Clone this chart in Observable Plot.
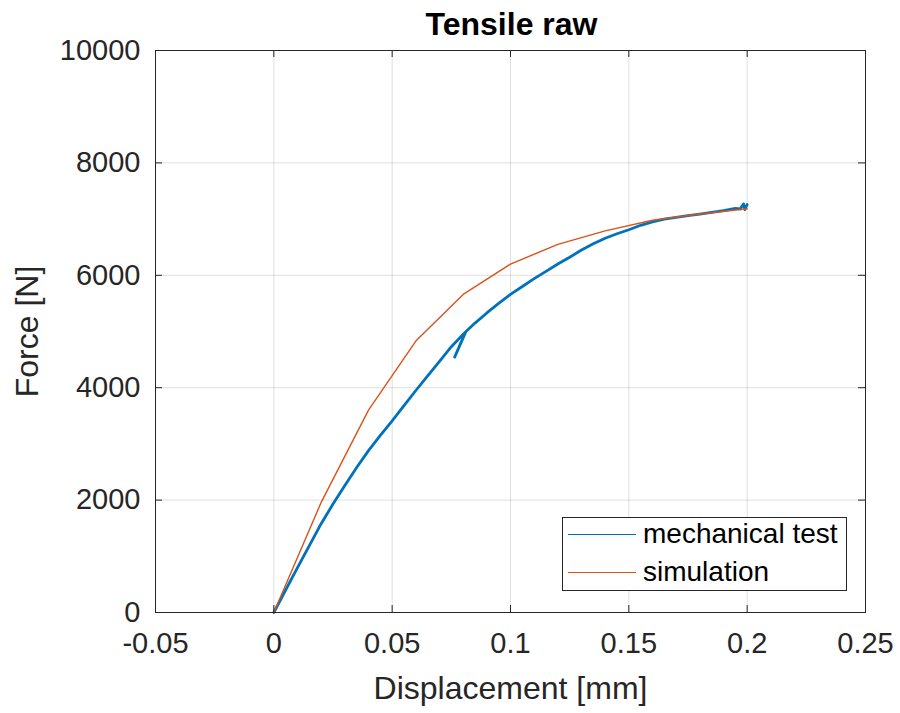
<!DOCTYPE html>
<html>
<head>
<meta charset="utf-8">
<script src="https://cdn.jsdelivr.net/npm/d3@7"></script>
<script src="https://cdn.jsdelivr.net/npm/@observablehq/plot@0.6"></script>
<style>
  body { margin: 0; background: #fff; font-family: "Liberation Sans", Arial, sans-serif; }
  #wrap { position: relative; width: 900px; height: 713px; }
  #legend { position: absolute; left: 562px; top: 517px; width: 285px; height: 74px; box-sizing: border-box;
            border: 1px solid #262626; background: #fff; }
  .lline { position: absolute; left: 5px; width: 68px; height: 0; }
  .ltext { position: absolute; left: 80px; font-size: 28px; line-height: 28px; color: #000; white-space: nowrap; }
</style>
</head>
<body>
<div id="wrap">
  <div id="chart"></div>
  <div id="legend"></div>
</div>
<script>
// ---- data ----
const seriesNames = ["mechanical test", "simulation"];
const seriesColors = ["#0072BD", "#D95319"];

const testDisp = [0, 0.005, 0.01, 0.015, 0.02, 0.025, 0.03, 0.035, 0.04, 0.045, 0.05, 0.055, 0.06, 0.065,
  0.07, 0.075, 0.08, 0.081, 0.0764, 0.0812, 0.085, 0.09, 0.095, 0.1, 0.105, 0.11, 0.115, 0.12, 0.125, 0.13,
  0.135, 0.14, 0.145, 0.15, 0.155, 0.16, 0.165, 0.17, 0.175, 0.18, 0.185, 0.19, 0.195, 0.197, 0.1985, 0.199, 0.2];
const testForce = [0, 400, 800, 1190, 1580, 1930, 2260, 2580, 2880, 3150, 3410, 3680, 3950, 4210,
  4470, 4730, 4950, 4990, 4545, 5000, 5150, 5330, 5500, 5660, 5800, 5940, 6070, 6200, 6320, 6450,
  6560, 6660, 6740, 6810, 6890, 6950, 7000, 7030, 7060, 7090, 7120, 7150, 7190, 7180, 7270, 7170, 7260];

const simDisp = [0, 0.02, 0.04, 0.06, 0.08, 0.1, 0.12, 0.14, 0.16, 0.18, 0.2];
const simForce = [0, 1960, 3600, 4830, 5660, 6200, 6550, 6790, 6980, 7090, 7185];

const xTicks = [-0.05, 0, 0.05, 0.1, 0.15, 0.2, 0.25];
const yTicks = [0, 2000, 4000, 6000, 8000, 10000];
const xTickLabels = ["-0.05", "0", "0.05", "0.1", "0.15", "0.2", "0.25"];
const yTickLabels = ["0", "2000", "4000", "6000", "8000", "10000"];

const titleText = "Tensile raw";
const xLabel = "Displacement [mm]";
const yLabel = "Force [N]";

// ---- build tables ----
const test = testDisp.map((d, i) => ({d, f: testForce[i]}));
const sim = simDisp.map((d, i) => ({d, f: simForce[i]}));

const W = 900, H = 713, mL = 155, mR = 35, mT = 50, mB = 101;
const fw = W - mL - mR, fh = H - mT - mB, tl = 7;
const axisColor = "#262626";

const chart = Plot.plot({
  width: W, height: H,
  marginLeft: mL, marginRight: mR, marginTop: mT, marginBottom: mB,
  style: {fontFamily: "'Liberation Sans', Arial, sans-serif", color: axisColor, background: "#fff", overflow: "visible"},
  x: {domain: [-0.05, 0.25], label: null},
  y: {domain: [0, 10000], label: null},
  marks: [
    Plot.gridX(xTicks, {stroke: axisColor, strokeOpacity: 0.15}),
    Plot.gridY(yTicks, {stroke: axisColor, strokeOpacity: 0.15}),
    Plot.line(test, {x: "d", y: "f", stroke: seriesColors[0], strokeWidth: 2.8}),
    Plot.line(sim, {x: "d", y: "f", stroke: seriesColors[1], strokeWidth: 1.4}),
    Plot.frame({stroke: axisColor}),
    Plot.tickX(xTicks, {x: d => d, insetTop: fh - tl, stroke: axisColor}),
    Plot.tickX(xTicks, {x: d => d, insetBottom: fh - tl, stroke: axisColor}),
    Plot.tickY(yTicks, {y: d => d, insetRight: fw - tl, stroke: axisColor}),
    Plot.tickY(yTicks, {y: d => d, insetLeft: fw - tl, stroke: axisColor}),
    Plot.axisX(xTicks, {tickSize: 0, tickPadding: 20, fontSize: 29, label: null,
      tickFormat: d => xTickLabels[xTicks.indexOf(d)]}),
    Plot.axisY(yTicks, {tickSize: 0, tickPadding: 15, fontSize: 29, label: null,
      tickFormat: d => yTickLabels[yTicks.indexOf(d)]}),
    Plot.text([xLabel], {frameAnchor: "bottom", lineAnchor: "middle", textAnchor: "middle", dy: 76, fontSize: 32, fill: axisColor}),
    Plot.text([yLabel], {frameAnchor: "left", lineAnchor: "middle", textAnchor: "middle", dx: -128, rotate: -90, fontSize: 32, fill: axisColor}),
    Plot.text([titleText], {frameAnchor: "top", lineAnchor: "middle", textAnchor: "middle", dy: -26, dx: 1, fontSize: 32, fontWeight: "bold", fill: "#000"})
  ]
});
document.getElementById("chart").appendChild(chart);

// ---- legend ----
const legend = document.getElementById("legend");
const rows = [{lineTop: 16, textTop: 2}, {lineTop: 54, textTop: 40}];
seriesNames.forEach((name, i) => {
  const ln = document.createElement("div");
  ln.className = "lline";
  ln.style.top = rows[i].lineTop + "px";
  ln.style.borderTop = "1.4px solid " + seriesColors[i];
  legend.appendChild(ln);
  const tx = document.createElement("div");
  tx.className = "ltext";
  tx.style.top = rows[i].textTop + "px";
  tx.textContent = name;
  legend.appendChild(tx);
});
</script>
</body>
</html>
